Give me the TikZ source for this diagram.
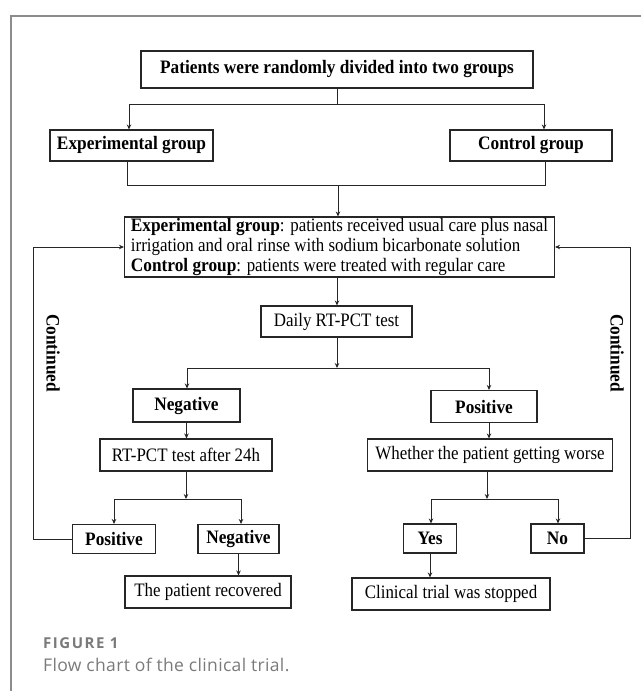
\documentclass[tikz,border=0pt]{standalone}
\usepackage{fontspec}
\setmainfont{Liberation Serif}[FakeStretch=0.89, BoldFeatures={FakeStretch=0.91}]
\newfontfamily\capfont{Open Sans}[LetterSpace=2]
\newfontfamily\figfont{Open Sans}[LetterSpace=10]
\usetikzlibrary{arrows.meta}
\definecolor{framegray}{HTML}{8C8C8C}
\definecolor{capgray}{HTML}{7A7A7A}
\definecolor{linecol}{HTML}{262626}
\begin{document}
\begin{tikzpicture}[x=1pt,y=-1pt,
  box/.style={draw=linecol, line width=1.1pt, inner sep=0pt, font=\fontsize{19}{20}\selectfont},
  bbox/.style={box, font=\fontsize{19}{20}\selectfont\bfseries},
  conn/.style={draw=linecol, line width=1pt},
  arr/.style={conn, -{Stealth[length=5pt,width=4.5pt]}},
  lab/.style={font=\fontsize{19}{20}\selectfont\bfseries, inner sep=0pt}]
\useasboundingbox (0,0) rectangle (641,691);
\draw[framegray, line width=2pt] (10.5,691) -- (10.5,15.5) -- (641,15.5);

% nodes
\node[bbox, minimum width=392pt, minimum height=37pt] (top) at (337,69.5) {Patients were randomly divided into two groups};
\node[bbox, minimum width=163pt, minimum height=31pt] (exp) at (131.5,145.5) {Experimental group};
\node[bbox, minimum width=162pt, minimum height=31pt] (ctrl) at (531,145.5) {Control group};
\node[box, minimum width=430pt, minimum height=60pt] (big) at (339.5,247) {\begin{tabular}{@{}l@{}}\textbf{Experimental group}: patients received usual care plus nasal\\irrigation and oral rinse with sodium bicarbonate solution\\\textbf{Control group}: patients were treated with regular care\end{tabular}};
\node[box, minimum width=151pt, minimum height=31pt] (daily) at (336.5,321.5) {Daily RT-PCT test};
\node[bbox, minimum width=107pt, minimum height=33pt] (neg1) at (186.5,405.5) {Negative};
\node[bbox, minimum width=106pt, minimum height=32pt] (pos1) at (484,406.5) {Positive};
\node[box, minimum width=172pt, minimum height=32pt] (rt) at (186,455) {RT-PCT test after 24h};
\node[box, minimum width=245pt, minimum height=32pt] (wh) at (490,455) {Whether the patient getting worse};
\node[bbox, minimum width=83pt, minimum height=29pt] (pos2) at (114,539) {Positive};
\node[bbox, minimum width=81pt, minimum height=29pt] (neg2) at (238.5,539) {Negative};
\node[bbox, minimum width=53pt, minimum height=29pt] (yes) at (430,538.5) {Yes};
\node[bbox, minimum width=53pt, minimum height=29pt] (no) at (557.5,538.5) {No};
\node[box, minimum width=166pt, minimum height=32pt] (rec) at (208,592) {The patient recovered};
\node[box, minimum width=198pt, minimum height=32pt] (stop) at (451,594) {Clinical trial was stopped};
\node[lab, rotate=-90] (cl) at (53,353) {Continued};
\node[lab, rotate=-90] (cr) at (617,353) {Continued};

% junction coordinates
\coordinate (b1l) at (129,104);
\coordinate (b1r) at (544,104);
\coordinate (m1l) at (127,185);
\coordinate (m1r) at (545,185);
\coordinate (m1c) at (338,185);
\coordinate (s2) at (337,368);
\coordinate (s2l) at (187,368);
\coordinate (s2r) at (489,368);
\coordinate (s3) at (186,499);
\coordinate (s3l) at (114,499);
\coordinate (s3r) at (241,499);
\coordinate (s4) at (487,499);
\coordinate (s4l) at (431,499);
\coordinate (s4r) at (558,499);
\coordinate (ll) at (33,0);
\coordinate (rl) at (630,0);

% connectors
\draw[conn] (top.south) -- (top.south |- b1l);
\draw[conn] (b1l) -- (b1r);
\draw[arr] (b1l) -- (b1l |- exp.north);
\draw[arr] (b1r) -- (b1r |- ctrl.north);
\draw[conn] (m1l |- exp.south) -- (m1l) -- (m1r) -- (m1r |- ctrl.south);
\draw[arr] (m1c) -- (m1c |- big.north);
\draw[arr] (s2 |- big.south) -- (s2 |- daily.north);
\draw[arr] (s2 |- daily.south) -- (s2);
\draw[conn] (s2l) -- (s2r);
\draw[arr] (s2l) -- (s2l |- neg1.north);
\draw[arr] (s2r) -- (s2r |- pos1.north);
\draw[arr] (neg1.south) -- (neg1.south |- rt.north);
\draw[arr] (s2r |- pos1.south) -- (s2r |- wh.north);
\draw[arr] (s3 |- rt.south) -- (s3);
\draw[conn] (s3l) -- (s3r);
\draw[arr] (s3l) -- (s3l |- pos2.north);
\draw[arr] (s3r) -- (s3r |- neg2.north);
\draw[arr] (s4 |- wh.south) -- (s4);
\draw[conn] (s4l) -- (s4r);
\draw[arr] (s4l) -- (s4l |- yes.north);
\draw[arr] (s4r) -- (s4r |- no.north);
\draw[arr] (neg2.south) -- (neg2.south |- rec.north);
\draw[arr] (yes.south) -- (yes.south |- stop.north);
\draw[arr] (pos2.west) -| (ll |- big.west) -- (big.west);
\draw[arr] (no.east) -| (rl |- big.east) -- (big.east);

% caption
\node[anchor=base west, inner sep=0pt, text=capgray, font=\figfont\bfseries\fontsize{15}{16}\selectfont] (fig) at (43,648) {FIGURE 1};
\node[anchor=base west, inner sep=0pt, text=capgray, font=\capfont\fontsize{17.5}{19}\selectfont] (cap) at (43,671) {Flow chart of the clinical trial.};
\end{tikzpicture}
\end{document}
